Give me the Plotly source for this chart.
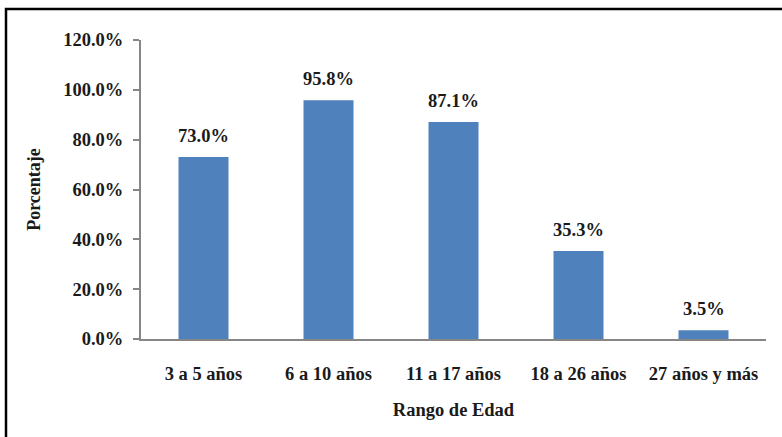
import plotly.graph_objects as go

categories = ["3 a 5 años", "6 a 10 años", "11 a 17 años", "18 a 26 años", "27 años y más"]
values = [73.0, 95.8, 87.1, 35.3, 3.5]
y_ticks = [0, 20, 40, 60, 80, 100, 120]
y_tick_labels = ["0.0%", "20.0%", "40.0%", "60.0%", "80.0%", "100.0%", "120.0%"]
value_labels = [f"{v:.1f}%" for v in values]

FONT = "Liberation Serif"
TXT = "#1a1a1a"

fig = go.Figure(go.Bar(
    x=categories, y=values,
    marker=dict(color="#4F81BD", line=dict(width=0)),
    width=0.4,
    cliponaxis=False,
    hoverinfo="x+y",
))

for c, v, t in zip(categories, values, value_labels):
    fig.add_annotation(x=c, y=v, text=f"<b>{t}</b>", showarrow=False,
                       yanchor="bottom", yshift=9,
                       font=dict(family=FONT, size=18.5, color=TXT))

fig.update_layout(
    width=782, height=437,
    margin=dict(l=141, r=16, t=40, b=98),
    paper_bgcolor="white", plot_bgcolor="white",
    font=dict(family=FONT, size=18, color=TXT),
    showlegend=False,
)
fig.update_xaxes(
    showline=True, linecolor="#868686", linewidth=2,
    ticks="", showgrid=False,
    tickfont=dict(family=FONT, size=18.5, weight="bold", color=TXT),
    ticklabelstandoff=17,
    title=dict(text="<b>Rango de Edad</b>", font=dict(family=FONT, size=18.5, color=TXT), standoff=20),
)
fig.update_yaxes(
    range=[0, 120], tickvals=y_ticks, ticktext=y_tick_labels,
    showline=True, linecolor="#868686", linewidth=2,
    ticks="outside", ticklen=6, tickcolor="#868686", tickwidth=1.5,
    showgrid=False, zeroline=False,
    tickfont=dict(family=FONT, size=18.5, weight="bold", color=TXT),
    ticklabelstandoff=6,
    title=dict(text="<b>Porcentaje</b>", font=dict(family=FONT, size=18, color=TXT), standoff=18),
)

fig.add_shape(type="rect", xref="paper", yref="paper",
              x0=-135/625, x1=1.2, y0=-0.5, y1=1 + 31/299,
              line=dict(color="black", width=2.5), fillcolor="rgba(0,0,0,0)", layer="below")

fig.write_html("out.html", config={"displayModeBar": False},
               post_script="document.body.style.margin='0';")
